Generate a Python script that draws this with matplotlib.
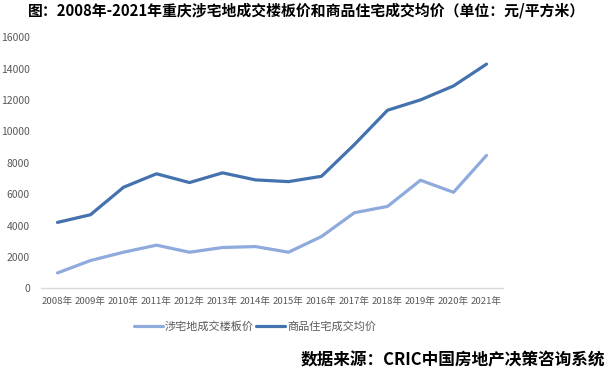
import matplotlib
matplotlib.use("Agg")
import matplotlib.pyplot as plt

plt.rcParams['font.family'] = ['Noto Sans CJK SC', 'DejaVu Sans']

# 数据
years = ["2008年", "2009年", "2010年", "2011年", "2012年", "2013年", "2014年",
         "2015年", "2016年", "2017年", "2018年", "2019年", "2020年", "2021年"]
land_price = [980, 1770, 2300, 2750, 2300, 2600, 2660, 2300, 3300, 4820, 5220, 6890, 6120, 8470]
house_price = [4200, 4690, 6440, 7300, 6740, 7360, 6910, 6800, 7140, 9170, 11350, 12010, 12900, 14290]

title = "图：2008年-2021年重庆涉宅地成交楼板价和商品住宅成交均价（单位：元/平方米）"
source = "数据来源：CRIC中国房地产决策咨询系统"

fig = plt.figure(figsize=(6.14, 3.73), dpi=100)
ax = fig.add_axes([41 / 614, 1 - 288.3 / 373, 462 / 614, 251 / 373])

x = list(range(len(years)))
ax.plot(x, land_price, color="#8FAADC", lw=2.3, label="涉宅地成交楼板价", solid_capstyle="round")
ax.plot(x, house_price, color="#4472AE", lw=2.3, label="商品住宅成交均价", solid_capstyle="round")

ax.set_xlim(-0.5, len(years) - 0.5)
ax.set_ylim(0, 16000)
ax.set_yticks(range(0, 16001, 2000))
ax.set_xticks(x)
ax.set_xticklabels(years)

for s in ["top", "right", "left"]:
    ax.spines[s].set_visible(False)
ax.spines["bottom"].set_color("#D9D9D9")
ax.spines["bottom"].set_linewidth(1)
ax.tick_params(axis="both", length=0, labelsize=7.5, colors="#595959")
ax.tick_params(axis="x", pad=6, labelsize=6.9)
ax.tick_params(axis="y", pad=8)

fig.legend(loc="center", bbox_to_anchor=(255 / 614, 1 - 327 / 373), ncol=2, frameon=False,
           fontsize=8, handlelength=2.6, columnspacing=0.2, handletextpad=0.2,
           labelcolor="#595959")

fig.text(307 / 614, 1 - 10 / 373, title, ha="center", va="center", fontsize=10.7,
         fontweight="bold", color="black")
fig.text(605 / 614, 1 - 360 / 373, source, ha="right", va="center", fontsize=12,
         fontweight="bold", color="black")

fig.savefig("out.png", dpi=100)
